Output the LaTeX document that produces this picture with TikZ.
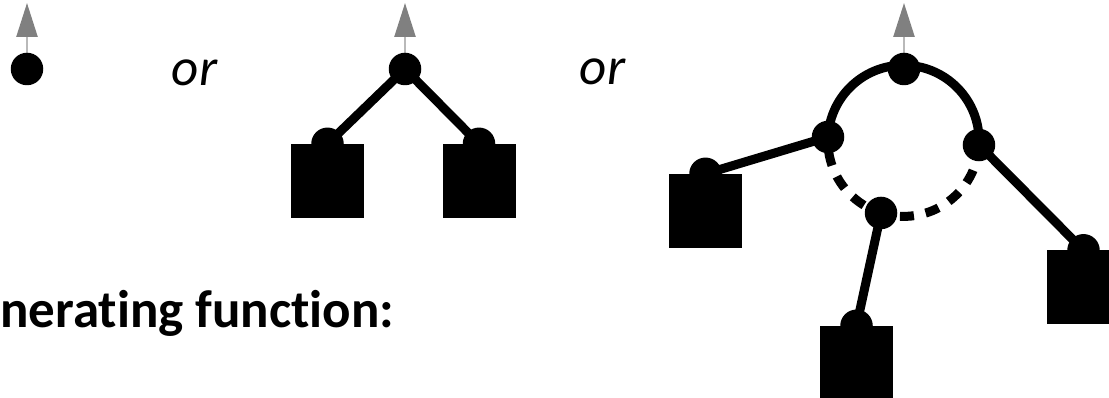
\documentclass[tikz,border=0pt]{standalone}
\usepackage{fontspec}
\setmainfont{Carlito}[Ligatures=NoCommon]
\usepackage{tikz}
\usetikzlibrary{shapes,arrows.meta,positioning,calc,backgrounds}
\definecolor{stemgray}{RGB}{185,185,185}
\definecolor{tipgray}{RGB}{128,128,128}

\begin{document}
\begin{tikzpicture}[x=10pt, y=10pt,
        dot/.style={circle, fill=black, inner sep=0pt, minimum size=32.5pt},
        leaf/.style={rectangle, fill=black, inner sep=0pt, minimum width=73pt, minimum height=74pt},
        link/.style={line width=9pt},
        stem/.style={-{Triangle[length=34pt, width=21pt, color=tipgray]}, draw=stemgray, line width=2.5pt},
        word/.style={font=\fontsize{53}{60}\selectfont\itshape, inner sep=0pt, anchor=base},
        title/.style={font=\fontsize{53}{60}\selectfont\bfseries, inner sep=0pt, anchor=base west}]

      \useasboundingbox (0,0) rectangle (110.9,39.8);
      \clip (0,0) rectangle (110.9,39.8);

      \node[dot] (single) at (2.7,32.9) {};
      \coordinate (up1) at (2.7,39.5);

      \node[word] (or1) at (19.45,31.2) {or};

      \node[dot] (root2) at (40.5,32.9) {};
      \coordinate (up2) at (40.5,39.5);
      \node[leaf] (sq2l) at (32.75,21.7) {};
      \node[leaf] (sq2r) at (47.9,21.7) {};
      \node[dot] (d2l) at (sq2l.north) {};
      \node[dot] (d2r) at (sq2r.north) {};

      \node[word] (or2) at (60.25,31.3) {or};

      \node[dot] (root3) at (90.4,32.9) {};
      \coordinate (up3) at (90.4,39.5);
      \coordinate (ctr) at (90.35,25.72);
      \node[dot] (m3l) at ($(ctr)+(177.1:7.56)$) {};
      \node[dot] (m3r) at ($(ctr)+(-3.2:7.56)$) {};
      \node[dot] (m3b) at ($(ctr)+(252.7:7.56)$) {};
      \node[leaf] (sq3l) at (70.55,18.7) {};
      \node[leaf] (sq3b) at (85.65,3.5) {};
      \node[leaf] (sq3r) at (108.35,11.05) {};
      \node[dot] (d3l) at (sq3l.north) {};
      \node[dot] (d3b) at (sq3b.north) {};
      \node[dot] (d3r) at (sq3r.north) {};

      \node[title] (gf) at (0,7.0) {nerating function:};

      \begin{scope}[on background layer]
        \draw[stem] (single) -- (up1);
        \draw[stem] (root2) -- (up2);
        \draw[stem] (root3) -- (up3);

        \draw[link] (root2.center) -- (d2l.center);
        \draw[link] (root2.center) -- (d2r.center);

        \draw[link] (m3l.center) arc[start angle=177.1, end angle=-3.2, radius=7.56];
        \draw[link, dash pattern=on 14pt off 12pt, dash phase=11pt] (m3l.center) arc[start angle=177.1, end angle=356.8, radius=7.56];
        \draw[link] (m3l.center) -- (d3l.center);
        \draw[link] (m3b.center) -- (d3b.center);
        \draw[link] (m3r.center) -- (d3r.center);
      \end{scope}
    \end{tikzpicture}
\end{document}
